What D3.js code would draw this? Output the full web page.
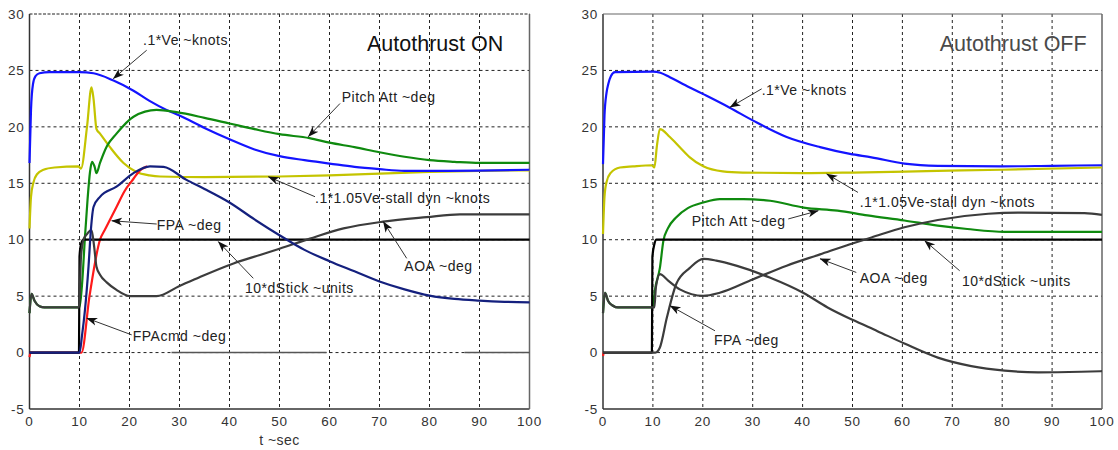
<!DOCTYPE html>
<html>
<head>
<meta charset="utf-8">
<script src="https://cdn.jsdelivr.net/npm/d3@7/dist/d3.min.js"></script>
<style>
  body { margin: 0; background: #fff; }
  svg text { font-family: "Liberation Sans", Arial, sans-serif; }
</style>
</head>
<body>
<div class="chart"></div>
<script>
var width = 1118, height = 450;

var xTicks = [0, 10, 20, 30, 40, 50, 60, 70, 80, 90, 100];
var yTicks = [-5, 0, 5, 10, 15, 20, 25, 30];

// --- Autothrust ON run: [t sec, value] ---
var onVe = [[0,16.8],[0.3,21.5],[0.7,23.8],[1.2,24.5],[2,24.75],[4,24.85],[10,24.85],[12.8,24.75],
  [16.8,24.1],[20.8,23.2],[24,22.3],[27.4,21.5],[30,21.0],[35,19.9],[40,18.9],[45,18.0],[50,17.4],
  [55,17.05],[60,16.75],[65,16.45],[70,16.25],[75,16.1],[80,16.1],[90,16.12],[100,16.2]];
var onVstall = [[0,11],[0.3,13.8],[0.8,15.1],[1.5,15.8],[2.8,16.2],[5,16.4],[9.8,16.5],[10.3,16.3],
  [11.5,20],[12.4,23.5],[12.8,22.5],[13.4,19.8],[14.1,19.4],[16.1,18.2],[18.8,16.8],[21.4,16.0],
  [24,15.7],[26.1,15.6],[35,15.55],[50,15.6],[60,15.7],[70,15.85],[80,16.0],[90,16.1],[100,16.15]];
var onPitch = [[0,3.5],[0.4,5.2],[1,4.6],[2,4.1],[3,4.0],[10,4.0],[10.5,6],[11.1,10.3],[11.6,13.5],
  [12.1,16.0],[12.5,16.9],[13,16.5],[13.4,15.9],[14.1,16.8],[15.5,18.3],[17.4,19.4],[20.8,20.9],
  [25.4,21.5],[29.4,21.3],[35,20.8],[40,20.3],[45,19.8],[50,19.35],[56,19.0],[60,18.6],[65,18.2],
  [70,17.75],[75,17.35],[80,17.05],[85,16.9],[90,16.8],[100,16.8]];
var onFPA = [[0,0],[10,0],[10.5,1.5],[11.1,3.8],[11.8,7.6],[12.3,11],[12.8,12.9],[14.1,13.8],
  [17.4,14.7],[20.8,15.9],[24.1,16.5],[26.8,16.45],[31.4,15.3],[35,14.5],[40,13.3],[45,11.8],
  [50,10.4],[55,9.1],[60,8.1],[65,7.2],[70,6.3],[75,5.6],[80,5.05],[85,4.75],[90,4.6],[95,4.5],[100,4.45]];
var onFPAcmd = [[0,-0.4],[0.2,0],[10.4,0],[12,5],[14.1,10],[15.1,10.9],[17.4,12.9],[19,14.3],
  [20.8,15.4],[22,16.1],[23.5,16.5]];
var onAOA = [[0,3.5],[0.4,5.2],[1,4.6],[2,4.1],[3,4.0],[9.9,4.0],[10.1,6],[10.3,8.5],[10.8,10],
  [11.5,10.5],[12.4,10.85],[12.9,9.5],[13.4,7.6],[14.1,6.9],[15.5,6.2],[17.4,5.55],[20.1,5.0],
  [25.4,5.0],[30,5.9],[34.1,6.7],[40.8,7.9],[46.1,8.65],[50,9.2],[56.1,10.1],[62.8,11.0],[70.7,11.6],
  [79.4,12.0],[86.1,12.25],[100,12.25]];
var onStick = [[0,0],[9.9,0],[10,8.5],[10.3,9.6],[10.8,10],[100,10]];
var onZeroRef = [[28.4,0],[59.4,0],[59.5,null],[87,0],[100,0]];

// --- Autothrust OFF run ---
var offVe = [[0,16.7],[0.3,21],[0.7,23],[1.06,23.8],[1.6,24.5],[2.4,24.85],[10,24.9],[11.5,24.8],
  [13.4,24.4],[16,23.8],[20.1,22.9],[25.4,21.7],[30.1,20.55],[36.8,19.1],[43.5,18.2],[49.5,17.6],
  [53.8,17.3],[60.4,16.75],[67.1,16.55],[80,16.5],[90,16.55],[100,16.6]];
var offVstall = [[0,10.5],[0.3,13.8],[0.7,15.1],[1.5,15.9],[3.4,16.4],[6,16.5],[9.8,16.6],[10.3,16.4],
  [10.8,18.3],[11.4,19.8],[13.4,19.1],[15.4,18.2],[17.4,17.3],[20.1,16.5],[24,16.05],[28,15.95],
  [40,15.9],[50,15.95],[67,16.1],[80,16.2],[100,16.4]];
var offPitch = [[0,3.5],[0.4,5.3],[1,4.6],[2,4.15],[3,4.0],[10,4.0],[10.4,5.5],[11.4,7.5],[12.1,9.9],
  [13,11],[14.7,12.0],[17,12.8],[20.1,13.3],[23.4,13.6],[28.1,13.6],[33.5,13.45],[40.2,12.85],
  [47,12.57],[53,12.15],[60.4,11.7],[67.1,11.25],[73,10.95],[80.5,10.7],[100,10.7]];
var offFPA = [[0,0],[10.5,0],[11.4,0.45],[12.8,3.1],[14.7,6.1],[17.4,7.5],[20.1,8.3],[22.7,8.15],
  [26.7,7.7],[33.4,6.65],[40.1,5.3],[45,4.0],[50,2.9],[55,1.9],[60.4,0.8],[67.1,-0.45],[73.8,-1.2],
  [80.5,-1.6],[87.2,-1.75],[95.8,-1.7],[100,-1.65]];
var offFPAcmd = [[0,-0.3],[0.15,0]];
var offAOA = [[0,3.5],[0.4,5.3],[1,4.6],[2,4.15],[3,4.0],[10.3,4.0],[10.6,5.8],[11.4,6.95],[13,6.4],
  [15.4,5.6],[20.1,5.03],[23.4,5.3],[30.1,6.5],[36.8,7.7],[43.5,8.7],[49.5,9.6],[53.8,10.2],
  [60.4,11.1],[67.1,11.75],[77.2,12.3],[83.8,12.4],[96.5,12.35],[100,12.2]];
var offStick = [[0,0],[9.8,0],[9.9,8.5],[10.3,9.6],[10.7,10],[100,10]];

var colors = {
  ve: '#1414ff', vstall: '#c4c400', pitch: '#0f8a0f', fpa: '#14207e',
  fpacmd: '#ff1a1a', aoa: '#3c3c3c', stick: '#000', zero: '#555'
};

var svg = d3.select('.chart')
  .append('svg')
  .attr('width', width)
  .attr('height', height);

// barbed arrow head used by all the callouts
svg.append('defs').append('marker')
  .attr('id', 'arrow')
  .attr('viewBox', '0 -5 11 10')
  .attr('refX', 10.5)
  .attr('refY', 0)
  .attr('markerUnits', 'userSpaceOnUse')
  .attr('markerWidth', 11)
  .attr('markerHeight', 10)
  .attr('orient', 'auto')
  .append('path')
  .attr('d', 'M0,-4L11,0L0,4L3,0Z')
  .attr('fill', '#111');

function drawPanel(p) {
  var x = d3.scaleLinear().domain([0, 100]).range(p.xRange);
  var y = d3.scaleLinear().domain([-5, 30]).range([409, 14]);
  var g = svg.append('g');

  // dashed grid
  g.selectAll('.gx').data(xTicks.slice(1, -1)).enter().append('line')
    .attr('x1', function(d) { return x(d); }).attr('x2', function(d) { return x(d); })
    .attr('y1', y(30)).attr('y2', y(-5))
    .attr('stroke', '#222').attr('stroke-width', 1).attr('stroke-dasharray', '3,3');
  g.selectAll('.gy').data(yTicks.slice(1, p.openTop ? yTicks.length : -1)).enter().append('line')
    .attr('x1', x(0)).attr('x2', x(100))
    .attr('y1', function(d) { return y(d); }).attr('y2', function(d) { return y(d); })
    .attr('stroke', '#222').attr('stroke-width', 1)
    .attr('stroke-dasharray', function(d) { return d === 30 ? '3,1.5' : '3,3'; });

  // frame
  g.append('line').attr('x1', x(0)).attr('x2', x(0)).attr('y1', y(30)).attr('y2', y(-5))
    .attr('stroke', '#333').attr('stroke-width', 1.5);
  g.append('line').attr('x1', x(0)).attr('x2', x(100)).attr('y1', y(-5)).attr('y2', y(-5))
    .attr('stroke', '#333').attr('stroke-width', 1.5);
  g.append('line').attr('x1', x(100)).attr('x2', x(100)).attr('y1', y(30)).attr('y2', y(-5))
    .attr('stroke', '#666').attr('stroke-width', 1.5);
  if (!p.openTop) {
    g.append('line').attr('x1', x(0)).attr('x2', x(100)).attr('y1', y(30)).attr('y2', y(30))
      .attr('stroke', '#666').attr('stroke-width', 1.2);
  }

  // tick labels
  g.selectAll('.tx').data(xTicks).enter().append('text')
    .attr('x', function(d) { return x(d); }).attr('y', 426)
    .attr('text-anchor', 'middle').attr('font-size', 13.5).attr('letter-spacing', 0.8)
    .attr('fill', '#333').text(function(d) { return d; });
  g.selectAll('.ty').data(yTicks).enter().append('text')
    .attr('x', x(0) - 5).attr('y', function(d) { return y(d); })
    .attr('dy', '0.35em')
    .attr('text-anchor', 'end').attr('font-size', 13.5).attr('letter-spacing', 0.8)
    .attr('fill', '#333').text(function(d) { return d; });

  // data lines
  var line = d3.line()
    .defined(function(d) { return d[1] !== null; })
    .x(function(d) { return x(d[0]); })
    .y(function(d) { return y(d[1]); })
    .curve(d3.curveMonotoneX);

  p.series.forEach(function(s) {
    g.append('path')
      .attr('d', line(s.data))
      .attr('fill', 'none')
      .attr('stroke', s.color)
      .attr('stroke-width', s.width || 2.2)
      .attr('stroke-linejoin', 'round');
  });

  // title
  g.append('text')
    .attr('x', x(p.title.t)).attr('y', y(p.title.v)).attr('dy', '0.35em')
    .attr('font-size', 21.5).attr('fill', p.title.color)
    .text(p.title.text);

  // callouts
  p.notes.forEach(function(n) {
    g.append('line')
      .attr('x1', x(n.tail[0])).attr('y1', y(n.tail[1]))
      .attr('x2', x(n.tip[0])).attr('y2', y(n.tip[1]))
      .attr('stroke', '#333').attr('stroke-width', 1)
      .attr('marker-end', 'url(#arrow)');
    g.append('text')
      .attr('x', x(n.at[0])).attr('y', y(n.at[1])).attr('dy', '0.35em')
      .attr('font-size', 14).attr('letter-spacing', 0.5).attr('fill', '#222')
      .text(n.text);
  });

  if (p.xLabel) {
    g.append('text')
      .attr('x', (p.xRange[0] + p.xRange[1]) / 2).attr('y', 445)
      .attr('text-anchor', 'middle').attr('font-size', 14).attr('letter-spacing', 0.5)
      .attr('fill', '#333').text(p.xLabel);
  }
}

drawPanel({
  xRange: [29.5, 529.5],
  openTop: true,
  xLabel: 't ~sec',
  title: { text: 'Autothrust ON', t: 67.5, v: 27.41, color: '#111' },
  series: [
    { data: onZeroRef, color: colors.zero, width: 1.6 },
    { data: onVstall, color: colors.vstall },
    { data: onVe, color: colors.ve },
    { data: onPitch, color: colors.pitch },
    { data: onFPAcmd, color: colors.fpacmd },
    { data: onStick, color: colors.stick },
    { data: onAOA, color: colors.aoa },
    { data: onFPA, color: colors.fpa }
  ],
  notes: [
    { text: '.1*Ve ~knots', at: [22.7, 27.67], tail: [23.44, 26.79], tip: [16.76, 24.28] },
    { text: 'Pitch Att ~deg', at: [62.44, 22.65], tail: [62.1, 22.07], tip: [55.76, 19.13] },
    { text: '.1*1.05Ve-stall dyn ~knots', at: [57.1, 13.72], tail: [57.1, 13.81], tip: [47.76, 15.58] },
    { text: 'FPA ~deg', at: [25.44, 11.3], tail: [25.44, 11.39], tip: [16.44, 11.68] },
    { text: '10*dStick ~units', at: [43.1, 5.73], tail: [44.76, 6.58], tip: [37.76, 9.83] },
    { text: 'AOA ~deg', at: [74.96, 7.7], tail: [75.44, 8.35], tip: [70.76, 11.6] },
    { text: 'FPAcmd ~deg', at: [20.64, 1.42], tail: [20.44, 1.57], tip: [11.44, 3.05] }
  ]
});

drawPanel({
  xRange: [603, 1102],
  openTop: false,
  title: { text: 'Autothrust OFF', t: 67.47, v: 27.39, color: '#4a4a4a' },
  series: [
    { data: offVstall, color: colors.vstall },
    { data: offVe, color: colors.ve },
    { data: offPitch, color: colors.pitch },
    { data: offFPAcmd, color: colors.fpacmd },
    { data: offStick, color: colors.stick },
    { data: offAOA, color: colors.aoa },
    { data: offFPA, color: colors.aoa }
  ],
  notes: [
    { text: '.1*Ve ~knots', at: [31.8, 23.22], tail: [31.8, 23.37], tip: [25.45, 21.73] },
    { text: '.1*1.05Ve-stall dyn ~knots', at: [51.44, 13.31], tail: [51.1, 14.19], tip: [44.83, 15.83] },
    { text: 'Pitch Att ~deg', at: [17.78, 11.69], tail: [37.13, 11.84], tip: [43.15, 12.57] },
    { text: 'FPA ~deg', at: [22.24, 1.1], tail: [22.44, 1.93], tip: [13.43, 4.15] },
    { text: 'AOA ~deg', at: [51.44, 6.6], tail: [50.76, 7.1], tip: [43.49, 8.31] },
    { text: '10*dStick ~units', at: [71.94, 6.36], tail: [71.48, 7.25], tip: [64.47, 9.91] }
  ]
});
</script>
</body>
</html>
